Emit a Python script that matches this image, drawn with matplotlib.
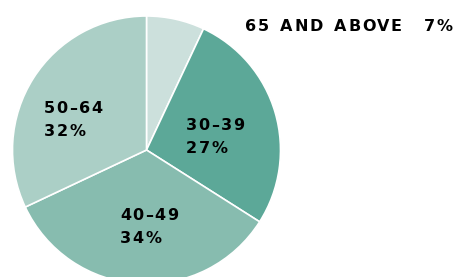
import matplotlib
matplotlib.use('Agg')
import matplotlib.pyplot as plt

# shares of each age group, clockwise from the top
groups = ['65 AND ABOVE', '30\u201339', '40\u201349', '50\u201364']
shares = [7, 27, 34, 32]
colors = ['#cce0dc', '#5ca898', '#87bcaf', '#abcfc6']

W, H = 456, 277
fig = plt.figure(figsize=(W / 100, H / 100), dpi=100)
ax = fig.add_axes([0, 0, 1, 1])

ax.pie(shares, colors=colors, startangle=90, counterclock=False,
       center=(146.5, H - 150), radius=134, frame=True,
       wedgeprops=dict(edgecolor='white', linewidth=1.2))
# pie() resets the limits, so set pixel-like limits afterwards
ax.set_xlim(0, W)
ax.set_ylim(0, H)
ax.set_aspect('equal')
ax.axis('off')

renderer = fig.canvas.get_renderer()
fp = dict(fontsize=11.5, fontweight='bold', family='DejaVu Sans')

def width(s):
    # advance width of s, with a bar appended so trailing spaces count
    t = ax.text(0, 0, s + '|', **fp)
    w = t.get_window_extent(renderer).width
    t.remove()
    return w

bar = width('')

def spaced(x, y, s, spacing=1.5, space_extra=3):
    # draw a string one character at a time to get the wide tracking
    for i, ch in enumerate(s):
        w = width(s[:i]) - bar if i else 0
        w += s[:i].count(' ') * space_extra
        ax.text(x + w + i * spacing, H - y, ch, ha='left', va='baseline', **fp)

spaced(245, 31, groups[0])
spaced(424, 31, str(shares[0]) + '%')
label_pos = {1: (186, 130), 2: (120, 220), 3: (44, 113)}
for i, (x, y) in label_pos.items():
    spaced(x, y, groups[i])
    spaced(x, y + 23, str(shares[i]) + '%')

fig.savefig('out.png', dpi=100)
